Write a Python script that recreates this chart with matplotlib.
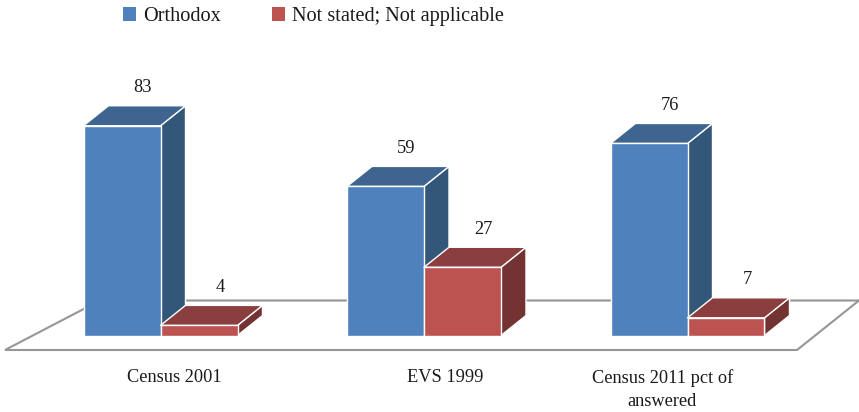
import matplotlib
matplotlib.use("Agg")
import matplotlib.pyplot as plt
from matplotlib.patches import Polygon, Patch

categories = ["Census 2001", "EVS 1999", "Census 2011 pct of\nanswered"]
orthodox = [83, 59, 76]
not_stated = [4, 27, 7]
series_names = ["Orthodox", "Not stated; Not applicable"]

W, H = 859, 412
PX_X = 263.5          # pixels per category step
PX_Y = 2.527          # pixels per value unit
LEFT = 83.5           # first bar left edge, px
BASE = 335.5          # baseline, px from top
AX_BOTTOM = 358.0     # axes bottom, px from top
BAR_W = 77.0 / PX_X
DX = 25.0 / PX_X
DY = 20.0 / PX_Y

plt.rcParams["font.family"] = ["Liberation Serif", "DejaVu Serif"]
FS = 13.2
LEG_FS = 14.6
TXT = "#1a1a1a"

fig = plt.figure(figsize=(W / 100, H / 100), dpi=100)
ax = fig.add_axes([0, 1 - AX_BOTTOM / H, 1, AX_BOTTOM / H])
ax.set_xlim(-LEFT / PX_X, (W - LEFT) / PX_X)
ax.set_ylim(-(AX_BOTTOM - BASE) / PX_Y, BASE / PX_Y)
for s in ax.spines.values():
    s.set_visible(False)
ax.set_yticks([])


def px(x, y):
    return (x - LEFT) / PX_X, (BASE - y) / PX_Y


# floor
floor_px = [(5, 350), (797, 350), (859, 300.5), (100, 300.5)]
ax.add_patch(Polygon([px(*p) for p in floor_px], closed=True, facecolor="white",
                     edgecolor="#969696", linewidth=1.5, zorder=1, clip_on=False))


def bar3d(x, v, front, top, side, z):
    ec = dict(edgecolor="#ffffff", linewidth=1.0, joinstyle="round", zorder=z)
    w = BAR_W
    ax.add_patch(Polygon([(x + w, 0), (x + w + DX, DY), (x + w + DX, v + DY), (x + w, v)],
                         facecolor=side, **ec))
    ax.add_patch(Polygon([(x, v), (x + DX, v + DY), (x + w + DX, v + DY), (x + w, v)],
                         facecolor=top, **ec))
    ax.add_patch(Polygon([(x, 0), (x + w, 0), (x + w, v), (x, v)],
                         facecolor=front, **ec))
    ax.text(x + w / 2 + 21 / PX_X, v + DY + 18 / PX_Y, str(v), ha="center", va="center",
            fontsize=FS, color=TXT, zorder=10)


for i, (a, b) in enumerate(zip(orthodox, not_stated)):
    bar3d(i, a, "#4F81BD", "#3D658F", "#335779", 2 + i * 2)
    bar3d(i + BAR_W, b, "#BC5350", "#8A3E3E", "#743333", 3 + i * 2)

# category labels
tick_offsets = [91 / PX_X, 98.5 / PX_X, 52 / PX_X]
ax.set_xticks([i + o for i, o in enumerate(tick_offsets)])
ax.set_xticklabels(categories, fontsize=FS, color=TXT, linespacing=1.45)
ax.tick_params(axis="x", length=0, pad=8)

handles = [Patch(facecolor="#4F81BD", edgecolor="none"), Patch(facecolor="#BC5350", edgecolor="none")]
fig.legend(handles, series_names, ncol=2, frameon=False, fontsize=LEG_FS, labelcolor=TXT,
           loc="upper left", bbox_to_anchor=(115 / W, 1 + 1 / H), borderaxespad=0,
           handlelength=0.64, handleheight=0.64, handletextpad=0.35, columnspacing=2.5)

fig.savefig("out.png", dpi=100)
